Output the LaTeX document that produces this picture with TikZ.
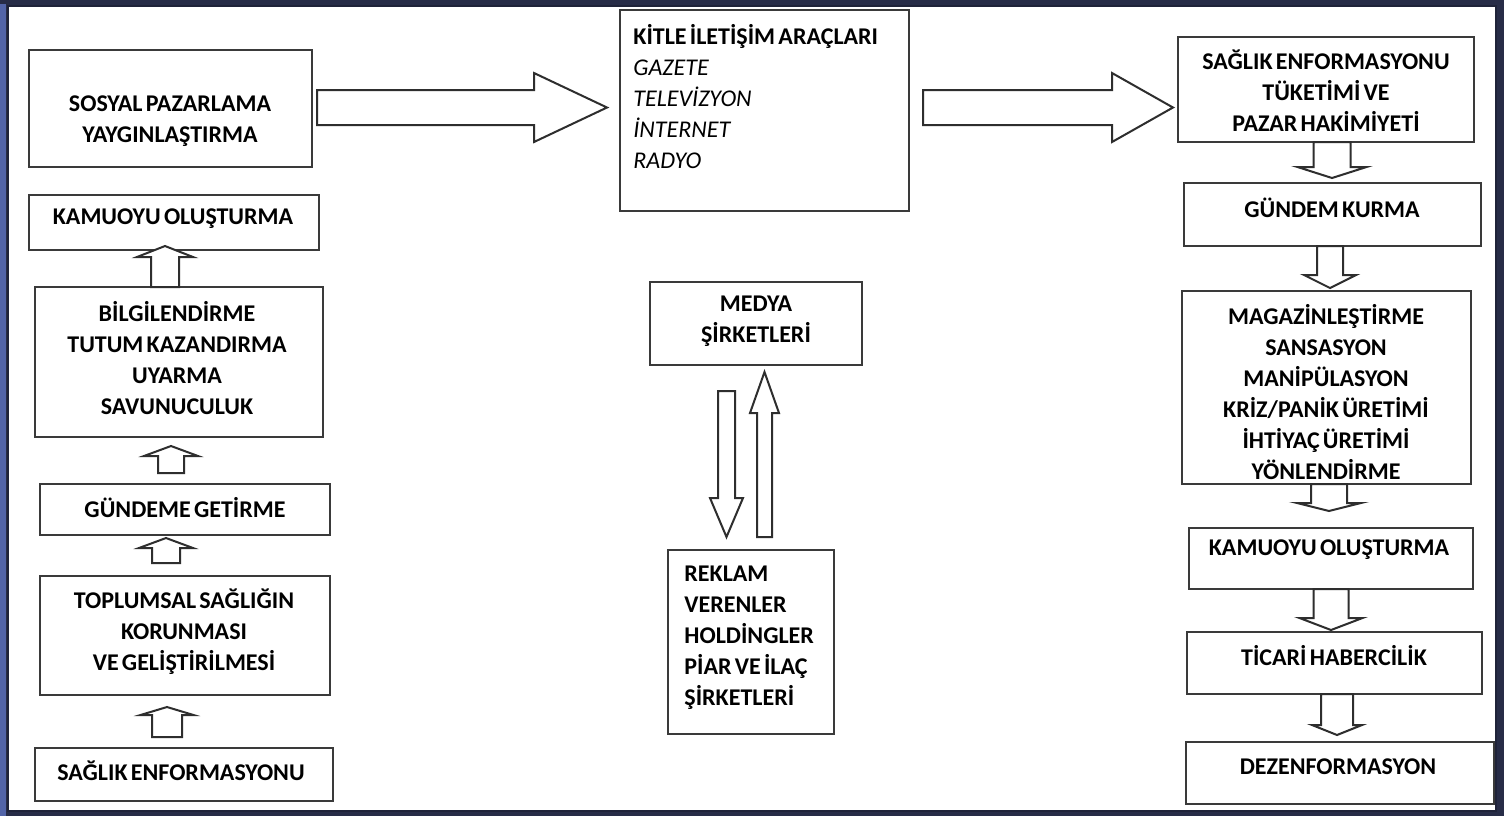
\documentclass[tikz,border=0pt]{standalone}
\usepackage{fontspec}
\setmainfont{Carlito}[WordSpace=0.6]
\usetikzlibrary{calc}
\definecolor{navy}{HTML}{272C47}
\definecolor{leftblue}{HTML}{5264A8}
\definecolor{boxc}{HTML}{3A3A3A}
\definecolor{arrc}{HTML}{2E2E2E}
\tikzset{
  box/.style={draw=boxc, line width=1.2pt, fill=white, inner sep=0pt},
  txt/.style={inner sep=0pt, align=center, text=black, font=\fontsize{12}{15.5}\selectfont\bfseries},
  ltxt/.style={txt, align=left, anchor=west},
  barrow/.style={draw=arrc, line width=1pt, fill=white, line join=miter},
}
\newcommand{\boxnode}[5]{%
  \node[box, minimum width={(#4-#2)*0.5pt}, minimum height={(#5-#3)*0.5pt}] (#1) at ({(#2+#4)/2},{(#3+#5)/2}) {};}
% block arrow: base, tip, shaft half width, wing half width, head length (px)
\newcommand{\barr}[5]{%
  \path ($(#2)!#5*0.5pt!(#1)$) coordinate (hb);
  \draw[barrow] ($(#1)!#3*0.5pt!90:(#2)$) -- ($(hb)!#3*0.5pt!90:(#2)$) -- ($(hb)!#4*0.5pt!90:(#2)$) -- (#2)
    -- ($(hb)!#4*0.5pt!-90:(#2)$) -- ($(hb)!#3*0.5pt!-90:(#2)$) -- ($(#1)!#3*0.5pt!-90:(#2)$) -- cycle;}
\begin{document}
\begin{tikzpicture}[x=0.5pt, y=-0.5pt]
\useasboundingbox (0,0) rectangle (1504,816);
% frame
\fill[navy] (0,0) rectangle (1504,816);
\fill[leftblue] (0,4) rectangle (6,816);
\filldraw[fill=white, draw=navy!80!black, line width=1pt] (8,6) rectangle (1496,811);

% ---------- left column ----------
\boxnode{sos}{29}{50}{312}{167}
\node[txt] (sos-t) at (170,121) {SOSYAL PAZARLAMA\\YAYGINLAŞTIRMA};
\boxnode{kam1}{29}{195}{319}{250}
\node[txt] (kam1-t) at (173,219) {KAMUOYU OLUŞTURMA};
\boxnode{bil}{35}{287}{323}{437}
\node[txt] (bil-t) at (177,358) {BİLGİLENDİRME\\TUTUM KAZANDIRMA\\UYARMA\\SAVUNUCULUK};
\boxnode{gun}{40}{484}{330}{535}
\node[txt] (gun-t) at (185,508) {GÜNDEME GETİRME};
\boxnode{top}{40}{576}{330}{695}
\node[txt] (top-t) at (184,632) {TOPLUMSAL SAĞLIĞIN\\KORUNMASI\\VE GELİŞTİRİLMESİ};
\boxnode{sag}{35}{748}{333}{801}
\node[txt] (sag-t) at (181,771) {SAĞLIK ENFORMASYONU};

\coordinate (a1b) at (165,287); \coordinate (a1t) at (165,246);
\coordinate (a2b) at (171,473); \coordinate (a2t) at (171,446);
\coordinate (a3b) at (166,563); \coordinate (a3t) at (166,538);
\coordinate (a4b) at (167,737); \coordinate (a4t) at (167,707);
\barr{a1b}{a1t}{14}{28}{11}
\barr{a2b}{a2t}{13}{27}{10}
\barr{a3b}{a3t}{14}{27}{10}
\barr{a4b}{a4t}{15}{26.5}{8}

% ---------- middle ----------
\boxnode{kit}{620}{10}{909}{211}
\node[ltxt] (kit-t) at (633,97) {KİTLE İLETİŞİM ARAÇLARI\\{\mdseries\itshape GAZETE}\\{\mdseries\itshape TELEVİZYON}\\{\mdseries\itshape İNTERNET}\\{\mdseries\itshape RADYO}};
\boxnode{med}{650}{282}{862}{365}
\node[txt] (med-t) at (756,321.5) {MEDYA\\ŞİRKETLERİ};
\boxnode{rek}{668}{550}{834}{734}
\node[ltxt] (rek-t) at (684,637.5) {REKLAM\\VERENLER\\HOLDİNGLER\\PİAR VE İLAÇ\\ŞİRKETLERİ};

\coordinate (h1b) at (317,107.5); \coordinate (h1t) at (607,107.5);
\coordinate (h2b) at (923,107.5); \coordinate (h2t) at (1173,107.5);
\barr{h1b}{h1t}{17.5}{34.5}{73}
\barr{h2b}{h2t}{17.5}{34.5}{61}
\coordinate (mdb) at (726.5,391); \coordinate (mdt) at (726.5,537);
\coordinate (mub) at (764.5,537); \coordinate (mut) at (764.5,372);
\barr{mdb}{mdt}{8.5}{16.5}{39}
\barr{mub}{mut}{7.5}{14.5}{41}

% ---------- right column ----------
\boxnode{tuk}{1178}{37}{1474}{142}
\node[txt] (tuk-t) at (1326,91) {SAĞLIK ENFORMASYONU\\TÜKETİMİ VE\\PAZAR HAKİMİYETİ};
\boxnode{gkm}{1184}{183}{1481}{246}
\node[txt] (gkm-t) at (1332,208) {GÜNDEM KURMA};
\boxnode{mag}{1182}{291}{1471}{484}
\node[txt] (mag-t) at (1326,392.5) {MAGAZİNLEŞTİRME\\SANSASYON\\MANİPÜLASYON\\KRİZ/PANİK ÜRETİMİ\\İHTİYAÇ ÜRETİMİ\\YÖNLENDİRME};
\boxnode{kam2}{1189}{528}{1473}{589}
\node[txt] (kam2-t) at (1329,550) {KAMUOYU OLUŞTURMA};
\boxnode{tic}{1187}{632}{1482}{694}
\node[txt] (tic-t) at (1334,656) {TİCARİ HABERCİLİK};
\boxnode{dez}{1186}{742}{1494}{804}
\node[txt] (dez-t) at (1338,767) {DEZENFORMASYON};

\coordinate (r1b) at (1332,142); \coordinate (r1t) at (1332,178);
\coordinate (r2b) at (1330,246); \coordinate (r2t) at (1330,288);
\coordinate (r3b) at (1329,484); \coordinate (r3t) at (1329,511);
\coordinate (r4b) at (1331,589); \coordinate (r4t) at (1331,630);
\coordinate (r5b) at (1337,694); \coordinate (r5t) at (1337,735);
\barr{r1b}{r1t}{18.5}{34.5}{11}
\barr{r2b}{r2t}{13}{26}{13}
\barr{r3b}{r3t}{18}{32}{8}
\barr{r4b}{r4t}{17.5}{31.5}{12}
\barr{r5b}{r5t}{16}{25}{10}
\end{tikzpicture}
\end{document}
